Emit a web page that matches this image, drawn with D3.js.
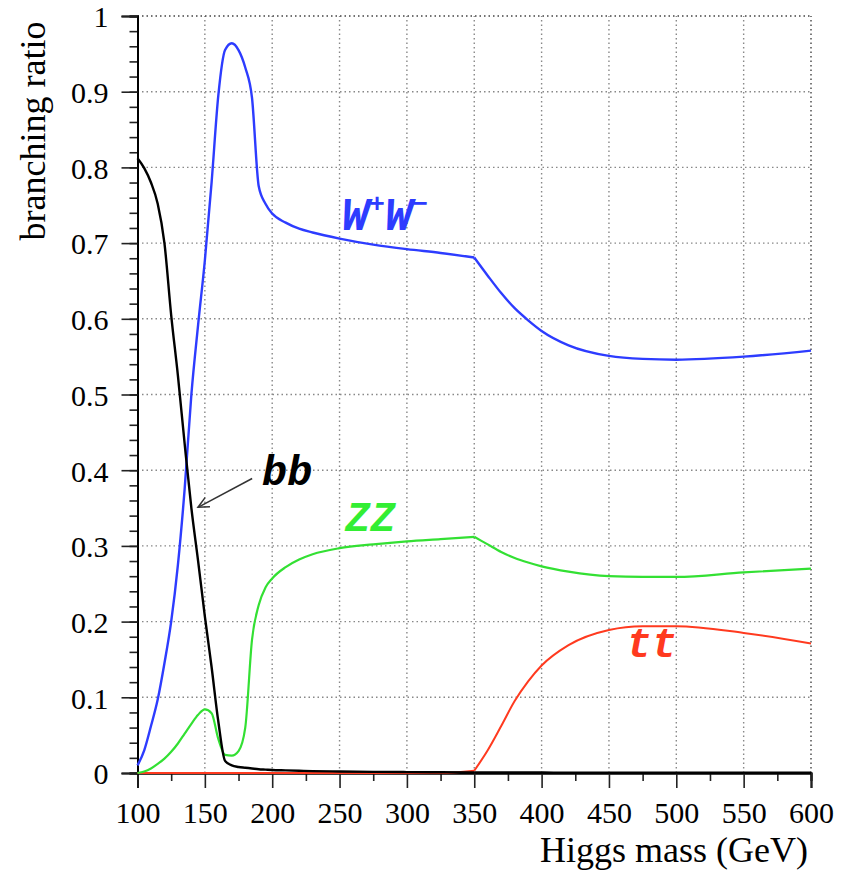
<!DOCTYPE html>
<html><head><meta charset="utf-8">
<script src="https://cdn.jsdelivr.net/npm/d3@7"></script>
<style>body{margin:0;background:#fff}svg{display:block}</style>
</head><body>
<script>
const mass = [100,105,110,115,120,125,130,135,140,145,150,155,160,165,170,175,180,185,190,195,200,210,220,230,250,275,300,325,350,360,370,380,390,400,420,450,475,500,550,600];
const brWW = [0.010,0.030,0.062,0.097,0.145,0.200,0.275,0.375,0.500,0.592,0.677,0.780,0.895,0.955,0.964,0.955,0.932,0.892,0.775,0.752,0.739,0.727,0.719,0.714,0.706,0.698,0.692,0.687,0.681,0.657,0.634,0.614,0.598,0.584,0.565,0.551,0.547,0.546,0.550,0.558];
const brZZ = [0.000,0.002,0.006,0.012,0.019,0.028,0.039,0.052,0.065,0.077,0.084,0.079,0.045,0.024,0.023,0.029,0.060,0.176,0.222,0.245,0.257,0.272,0.282,0.289,0.297,0.302,0.306,0.309,0.312,0.302,0.292,0.284,0.278,0.273,0.266,0.260,0.259,0.259,0.265,0.270];
const brBB = [0.812,0.799,0.780,0.752,0.700,0.605,0.525,0.435,0.350,0.280,0.207,0.140,0.068,0.016,0.010,0.008,0.007,0.006,0.005,0.0045,0.004,0.0035,0.003,0.0025,0.002,0.0015,0.0012,0.001,0.0008,0.0007,0.0007,0.0006,0.0006,0.0006,0.0005,0.0005,0.0005,0.0005,0.0005,0.0005];
const brTT = [0,0,0,0,0,0,0,0,0,0,0,0,0,0,0,0,0,0,0,0,0,0,0,0,0,0,0,0,0.003,0.030,0.062,0.095,0.121,0.142,0.169,0.189,0.194,0.194,0.185,0.171];

const xTicks = [100,150,200,250,300,350,400,450,500,550,600];
const yTicks = [0,0.1,0.2,0.3,0.4,0.5,0.6,0.7,0.8,0.9,1];
const yTickLabels = ["0","0.1","0.2","0.3","0.4","0.5","0.6","0.7","0.8","0.9","1"];
const xTitle = "Higgs mass (GeV)";
const yTitle = "branching ratio";

// annotation anchors in data units
const labelWW = {m:251.5, v:0.717};
const labelBB = {m:192.5, v:0.380};
const labelZZ = {m:254, v:0.320};
const labelTT = {m:463.0, v:0.153};
const arrowFrom = {m:185.1, v:0.389};
const arrowTo = {m:144.9, v:0.351};

const W = 843, H = 871;
const svg = d3.select("body").append("svg").attr("width", W).attr("height", H);
const x = d3.scaleLinear().domain([100,600]).range([137.5,811]);
const y = d3.scaleLinear().domain([0,1]).range([773,16]);

const serif = "'Liberation Serif','Times New Roman',serif";
const mono = "'Liberation Mono','Courier New',monospace";

// grid
const grid = svg.append("g");
grid.selectAll("line.gx").data(xTicks.slice(1)).join("line")
  .attr("x1", d => x(d)).attr("x2", d => x(d)).attr("y1", y(0)).attr("y2", y(1))
  .attr("stroke", d => d === 600 ? "#444" : "#888").attr("stroke-width", 1.4)
  .attr("stroke-dasharray", "1.5,3");
grid.selectAll("line.gy").data(yTicks.slice(1)).join("line")
  .attr("y1", d => y(d)).attr("y2", d => y(d)).attr("x1", x(100)).attr("x2", x(600))
  .attr("stroke", d => d === 1 ? "#444" : "#888").attr("stroke-width", 1.4)
  .attr("stroke-dasharray", "1.5,3");

// axes
const xAxis = d3.axisBottom(x).tickValues(xTicks).tickSize(15).tickFormat(d3.format("d"));
const xMinor = d3.axisBottom(x).tickValues(d3.range(125,600,50)).tickSize(8).tickFormat("");
const yAxis = d3.axisLeft(y).tickValues(yTicks).tickSize(16).tickFormat((d,i) => yTickLabels[i]);
const yMinor = d3.axisLeft(y).tickValues(d3.range(0,1.0001,0.02)).tickSize(8).tickFormat("");

function styleAxis(g){
  g.select(".domain").attr("stroke","#000").attr("stroke-width",2);
  g.selectAll(".tick line").attr("stroke","#222").attr("stroke-width",1.6);
  g.selectAll("text").attr("font-family", serif).attr("font-size", 30).attr("fill","#000");
}
svg.append("g").attr("transform",`translate(0,${y(0)})`).call(xMinor).call(styleAxis);
svg.append("g").attr("transform",`translate(${x(100)},0)`).call(yMinor).call(styleAxis);
const gx = svg.append("g").attr("transform",`translate(0,${y(0)})`).call(xAxis).call(styleAxis);
gx.selectAll(".tick text").attr("dy", 0).attr("y", 50);
const gy = svg.append("g").attr("transform",`translate(${x(100)},0)`).call(yAxis).call(styleAxis);
gy.selectAll(".tick text").attr("x", -29).attr("dy", "0.36em");

// titles
svg.append("text").attr("x", 808).attr("y", 862).attr("text-anchor","end")
  .attr("font-family", serif).attr("font-size", 36).text(xTitle);
svg.append("text").attr("transform","translate(45,131) rotate(-90)").attr("text-anchor","middle")
  .attr("font-family", serif).attr("font-size", 36).text(yTitle);

// curves, split at the 350 GeV threshold to keep the kink
const series = [
  {vals: brTT, color:"#ff3a1f", w:2},
  {vals: brZZ, color:"#33e033", w:2.2},
  {vals: brWW, color:"#2d3cff", w:2.4},
  {vals: brBB, color:"#000", w:2.4}
];
const line = d3.line().x(d => x(d[0])).y(d => y(d[1])).curve(d3.curveMonotoneX);
const plot = svg.append("g");
series.forEach(s => {
  const pts = mass.map((m,i) => [m, s.vals[i]]);
  const a = pts.filter(p => p[0] <= 350), b = pts.filter(p => p[0] >= 350);
  [a,b].forEach(seg => plot.append("path").attr("d", line(seg)).attr("fill","none")
    .attr("stroke", s.color).attr("stroke-width", s.w).attr("stroke-linejoin","round"));
});

// labels
const lab = svg.append("g").attr("font-family", mono).attr("font-weight","bold").attr("font-style","italic");
const tw = lab.append("text").attr("x", x(labelWW.m)).attr("y", y(labelWW.v)).attr("fill","#2d3cff").attr("font-size", 46);
tw.append("tspan").text("W");
tw.append("tspan").attr("font-size", 26).attr("dy", -18).text("+");
tw.append("tspan").attr("dy", 18).text("W");
tw.append("tspan").attr("font-size", 26).attr("dy", -18).text("−");
lab.append("text").attr("x", x(labelBB.m)).attr("y", y(labelBB.v)).attr("fill","#000").attr("font-size", 42).text("bb");
lab.append("text").attr("x", x(labelZZ.m)).attr("y", y(labelZZ.v)).attr("fill","#33ee33").attr("font-size", 42).text("ZZ");
lab.append("text").attr("x", x(labelTT.m)).attr("y", y(labelTT.v)).attr("fill","#ff3a1f").attr("font-size", 42).text("tt");

// arrow
const ax1 = x(arrowFrom.m), ay1 = y(arrowFrom.v), ax2 = x(arrowTo.m), ay2 = y(arrowTo.v);
svg.append("line").attr("x1", ax1).attr("y1", ay1).attr("x2", ax2).attr("y2", ay2)
  .attr("stroke","#333").attr("stroke-width",1.5);
const ang = Math.atan2(ay1-ay2, ax1-ax2), hl = 12, spread = 0.45;
svg.append("path").attr("d", `M${ax2+hl*Math.cos(ang-spread)},${ay2+hl*Math.sin(ang-spread)} L${ax2},${ay2} L${ax2+hl*Math.cos(ang+spread)},${ay2+hl*Math.sin(ang+spread)}`)
  .attr("fill","none").attr("stroke","#333").attr("stroke-width",1.5);
</script>
</body></html>
